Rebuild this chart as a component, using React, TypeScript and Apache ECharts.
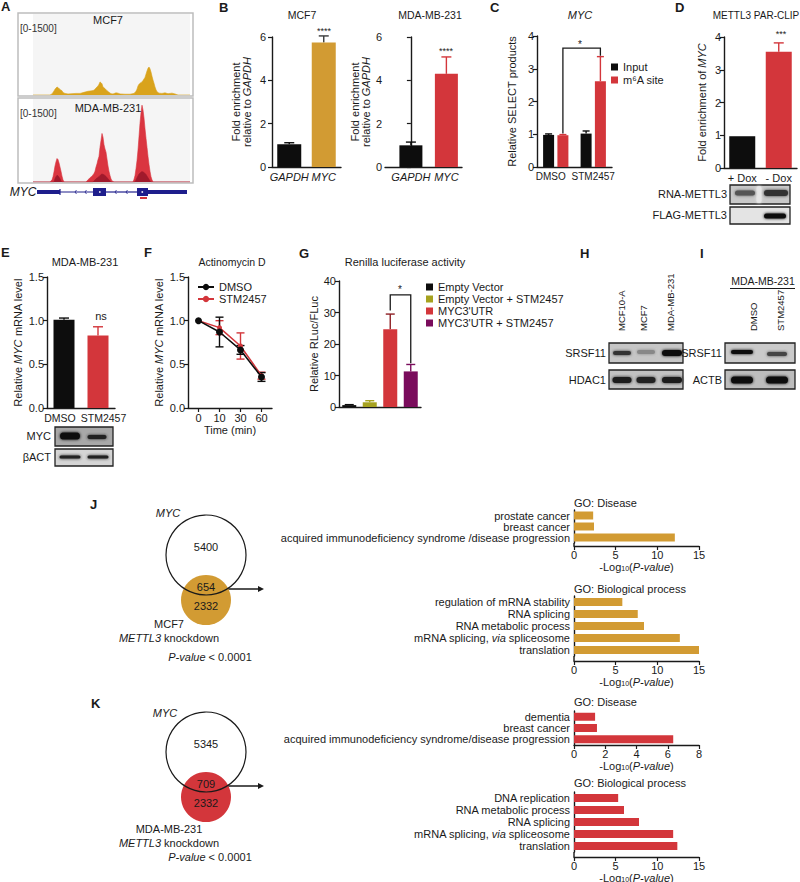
import React, { useEffect, useRef } from 'react';
import * as echarts from 'echarts';

// ---------------- DATA ----------------
// Panel A coverage tracks: [genomic bin, read count]
const trackMCF7: [number, number][] = [[33,0],[50,0],[52,20],[54,75],[55,110],[56,130],[57,150],[58,140],[59,120],[60,105],[61,90],[62,80],[63,45],[65,30],[68,20],[72,25],[76,30],[80,30],[84,50],[86,60],[88,70],[90,75],[92,80],[94,90],[96,130],[98,170],[99,200],[100,245],[101,230],[102,210],[103,150],[105,120],[107,80],[109,50],[111,25],[113,20],[116,40],[118,35],[120,20],[125,15],[130,15],[134,30],[136,70],[137,110],[138,170],[139,200],[140,220],[141,230],[142,250],[143,270],[144,300],[145,330],[146,390],[147,450],[148,500],[149,525],[150,490],[151,430],[152,350],[153,280],[154,220],[155,150],[156,100],[157,60],[159,35],[162,30],[165,40],[168,25],[172,35],[175,20],[178,0],[190,0]];
const trackMDA: [number, number][] = [[33,0],[50,0],[52,40],[53,100],[54,190],[55,300],[56,380],[57,440],[58,420],[59,360],[60,280],[61,200],[62,110],[63,40],[64,0],[86,0],[88,40],[90,80],[92,110],[94,160],[95,200],[96,280],[97,340],[98,420],[99,480],[100,650],[101,780],[102,910],[103,840],[104,700],[105,620],[106,560],[107,430],[108,300],[109,200],[110,120],[111,60],[112,20],[114,0],[133,0],[134,50],[135,120],[136,250],[137,400],[138,600],[139,850],[140,1100],[141,1300],[142,1440],[143,1350],[144,1200],[145,1000],[146,820],[147,650],[148,480],[149,330],[150,200],[151,100],[152,40],[153,0],[190,0]];
const trackMDAUnique: [number, number][] = [[33,0],[54,0],[55,60],[56,100],[57,125],[58,115],[59,90],[60,60],[61,20],[62,0],[93,0],[96,60],[99,100],[101,140],[102,150],[104,135],[106,105],[108,60],[110,20],[111,0],[135,0],[137,80],[139,150],[141,185],[142,195],[144,180],[146,140],[148,80],[150,20],[151,0],[190,0]];

// Panel B
const bCats = ['GAPDH', 'MYC'];
const bMCF7Mean = [1.05, 5.75];
const bMCF7Err = [0.07, 0.3];
const bMDAMean = [1.0, 4.3];
const bMDAErr = [0.15, 0.78];

// Panel C
const cCats = ['DMSO', 'STM2457'];
const cInput = [0.98, 1.02];
const cInputErr = [0.03, 0.08];
const cM6A = [0.97, 2.62];
const cM6AErr = [0.02, 0.75];

// Panel D
const dCats = ['+ Dox', '- Dox'];
const dMean = [0.97, 3.55];
const dErr = [0, 0.27];

// Panel E
const eCats = ['DMSO', 'STM2457'];
const eMean = [1.01, 0.83];
const eErr = [0.02, 0.1];

// Panel F
const fTimes = ['0', '10', '30', '60'];
const fDMSO = [1.0, 0.87, 0.665, 0.355];
const fDMSOErr = [0, 0.17, 0.05, 0.05];
const fSTM = [1.0, 0.92, 0.71, 0.37];
const fSTMErr = [0, 0.08, 0.15, 0.04];

// Panel G
const gNames = ['Empty Vector', 'Empty Vector + STM2457', "MYC3'UTR", "MYC3'UTR + STM2457"];
const gMean = [0.6, 1.5, 24.7, 11.3];
const gErr = [0.15, 0.5, 4.8, 2.2];

// GO panels
const goJDisLabels = ['prostate cancer', 'breast cancer', 'acquired immunodeficiency syndrome /disease progression'];
const goJDisValues = [2.3, 2.4, 12.1];
const goJBpLabels = ['regulation of mRNA stability', 'RNA splicing', 'RNA metabolic process', 'mRNA splicing, via spliceosome', 'translation'];
const goJBpValues = [5.8, 7.65, 8.4, 12.7, 15.0];
const goKDisLabels = ['dementia', 'breast cancer', 'acquired immunodeficiency syndrome/disease progression'];
const goKDisValues = [1.35, 1.47, 6.35];
const goKBpLabels = ['DNA replication', 'RNA metabolic process', 'RNA splicing', 'mRNA splicing, via spliceosome', 'translation'];
const goKBpValues = [5.3, 6.0, 7.8, 11.9, 12.4];

// Venn counts
const vennJ = { myc: '5400', overlap: '654', kd: '2332' };
const vennK = { myc: '5345', overlap: '709', kd: '2332' };

// ---------------- STYLE ----------------
const FONT = '"Liberation Sans", Arial, Helvetica, sans-serif';
const INK = '#1a1a1a';
const GOLD = '#D29B33';
const RED = '#D3363B';
const BLACK = '#0d0d0d';
const OLIVE = '#A6A21F';
const PURPLE = '#7A0C5C';
const NAVY = '#1E1E8C';
const TRACK_GOLD = '#D9A31C';
const TRACK_RED = '#DA3540';
const TRACK_DARK = '#A01A2C';

const rich = {
  i: { fontStyle: 'italic', fontSize: 11, fontFamily: FONT, color: INK },
  n: { fontSize: 11, fontFamily: FONT, color: INK },
  s: { fontSize: 7, fontFamily: FONT, color: INK, verticalAlign: 'bottom', padding: [4, 0, 0, 0] },
};

const axLine = { show: true, lineStyle: { color: INK, width: 1.4 } };

const yVal = (gridIndex: number, min: number, max: number, interval: number, extra: any = {}) => ({
  type: 'value', gridIndex, min, max, interval,
  axisLine: axLine,
  axisTick: { show: true, length: 4, lineStyle: { color: INK, width: 1.2 } },
  splitLine: { show: false },
  axisLabel: { color: INK, fontSize: 11, fontFamily: FONT, margin: 3 },
  nameLocation: 'middle', nameRotate: 90,
  nameTextStyle: { color: INK, fontSize: 11, fontFamily: FONT, rich },
  ...extra,
});

const xCat = (gridIndex: number, data: string[], extra: any = {}) => ({
  type: 'category', gridIndex, data,
  axisLine: axLine,
  axisTick: { show: false },
  axisLabel: { color: INK, fontSize: 11, fontFamily: FONT, margin: 4, interval: 0 },
  ...extra,
});

// category labels nudged sideways (Prism-style placement) via rich padding
const shiftedLabels = (size: number, padA: number[], padB: number[]) => ({
  color: INK, fontSize: size, fontFamily: FONT, margin: 4, interval: 0,
  formatter: (v: string, i: number) => (i === 0 ? `{a|${v}}` : `{b|${v}}`),
  rich: {
    a: { fontSize: size, fontFamily: FONT, color: INK, padding: padA },
    b: { fontSize: size, fontFamily: FONT, color: INK, padding: padB },
  },
});

const errSeries = (xi: number, yi: number, means: number[], errs: number[], colors: string[], opts: any = {}) => ({
  type: 'custom', xAxisIndex: xi, yAxisIndex: yi, z: opts.z ?? 1,
  encode: { x: 0, y: [1, 2, 3] },
  data: means.map((m, i) => [i, m, opts.both ? m - errs[i] : m, m + errs[i]]),
  renderItem: (params: any, api: any) => {
    const i = params.dataIndex;
    if (errs[i] <= 0) return { type: 'group', children: [] };
    const x = api.value(0);
    const pHi = api.coord([x, api.value(3)]);
    const pLo = api.coord([x, api.value(2)]);
    const cx = pHi[0] + (opts.off ?? 0);
    const cap = opts.cap ?? 5;
    const st = { stroke: colors[i], lineWidth: 1.4 };
    const ch: any[] = [
      { type: 'line', shape: { x1: cx, y1: pLo[1], x2: cx, y2: pHi[1] }, style: st },
      { type: 'line', shape: { x1: cx - cap, y1: pHi[1], x2: cx + cap, y2: pHi[1] }, style: st },
    ];
    if (opts.both) ch.push({ type: 'line', shape: { x1: cx - cap, y1: pLo[1], x2: cx + cap, y2: pLo[1] }, style: st });
    return { type: 'group', children: ch };
  },
});

const bracketSeries = (xi: number, yi: number, pts: number[][], off: number) => ({
  type: 'custom', xAxisIndex: xi, yAxisIndex: yi, z: 5,
  encode: { x: [0, 2], y: [1, 3, 4] },
  data: pts,
  renderItem: (_p: any, api: any) => {
    const a = api.coord([api.value(0), api.value(1)]);
    const at = api.coord([api.value(0), api.value(4)]);
    const b = api.coord([api.value(2), api.value(3)]);
    const bt = api.coord([api.value(2), api.value(4)]);
    return {
      type: 'polyline',
      shape: { points: [[a[0] + off, a[1]], [at[0] + off, at[1]], [bt[0] + off, bt[1]], [b[0] + off, b[1]]] },
      style: { stroke: INK, lineWidth: 1.3, fill: 'none' },
    };
  },
});

const txt = (x: number, y: number, text: string, o: any = {}) => ({
  type: 'text', x, y, z: 10, rotation: o.rot ?? 0,
  style: {
    text, fill: o.color ?? INK, fontSize: o.size ?? 11, fontFamily: FONT,
    fontWeight: o.bold ? 'bold' : 'normal', fontStyle: o.italic ? 'italic' : 'normal',
    align: o.align ?? 'center', verticalAlign: 'middle', rich: o.rich,
  },
});

const blot = (x: number, y: number, w: number, h: number, bg: string, bands: [number, number, number, number, string][]) => ({
  type: 'group', children: [
    { type: 'rect', shape: { x, y, width: w, height: h }, style: { fill: bg, stroke: '#222', lineWidth: 1.3 } },
    ...bands.map(([cx, cy, bw, bh, col]) => ({
      type: 'rect', shape: { x: cx - bw / 2, y: cy - bh / 2, width: bw, height: bh, r: bh / 2 },
      style: { fill: col, shadowBlur: 3, shadowColor: col },
    })),
  ],
});

const goAxisX = (gridIndex: number, max: number, interval: number, offset: number) => ({
  type: 'value', gridIndex, min: 0, max, interval, offset,
  axisLine: axLine,
  axisTick: { show: true, length: 4, lineStyle: { color: INK, width: 1.2 } },
  splitLine: { show: false },
  axisLabel: { color: INK, fontSize: 11, fontFamily: FONT, margin: 3 },
  name: '-Log{s|10}({i|P-value})', nameLocation: 'middle', nameGap: 15,
  nameTextStyle: { color: INK, fontSize: 11, fontFamily: FONT, rich },
});
const goAxisY = (gridIndex: number, data: string[]) => ({
  type: 'category', gridIndex, data, inverse: true,
  axisLine: axLine, axisTick: { show: false },
  axisLabel: {
    color: INK, fontSize: 11, fontFamily: FONT, margin: 4, interval: 0,
    formatter: (v: string) => v.replace('via', '{iv|via}'),
    rich: { iv: { fontStyle: 'italic', fontSize: 11, fontFamily: FONT, color: INK } },
  },
});

function buildOption() {
  const grid = [
    { left: 18, top: 15, width: 175, height: 80 },
    { left: 18, top: 102, width: 175, height: 80 },
    { left: 272, top: 37, width: 69, height: 130 },
    { left: 385, top: 37, width: 77, height: 130 },
    { left: 537, top: 36, width: 75, height: 131 },
    { left: 724, top: 37, width: 73, height: 131 },
    { left: 47, top: 277, width: 68, height: 131 },
    { left: 188, top: 277, width: 84, height: 131 },
    { left: 339, top: 281, width: 82, height: 126 },
    { left: 574, top: 510, width: 125, height: 33 },
    { left: 574, top: 596, width: 125, height: 60 },
    { left: 574, top: 711, width: 125, height: 34 },
    { left: 574, top: 792, width: 125, height: 60 },
  ].map((g) => ({ ...g, outerBoundsMode: 'none', containLabel: false }));

  const italicCat = { color: INK, fontSize: 11, fontFamily: FONT, fontStyle: 'italic', margin: 4, interval: 0 };

  const xAxis: any[] = [
    { type: 'value', gridIndex: 0, min: 18, max: 193, show: false },
    { type: 'value', gridIndex: 1, min: 18, max: 193, show: false },
    xCat(2, bCats, { axisLabel: italicCat }),
    {
      type: 'value', gridIndex: 3, min: -0.73, max: 1.44,
      axisLine: axLine, axisTick: { show: false }, splitLine: { show: false },
      axisLabel: { ...italicCat, customValues: [0, 1], formatter: (v: number) => (Math.abs(v - Math.round(v)) < 1e-6 ? bCats[Math.round(v)] ?? '' : '') },
    },
    xCat(4, cCats, { axisLabel: shiftedLabels(10, [0, 10, 0, 0], [0, 0, 0, 0]) }),
    xCat(5, dCats),
    xCat(6, eCats, { axisLabel: shiftedLabels(10.5, [0, 8, 0, 0], [0, 0, 0, 11]) }),
    xCat(7, fTimes, {
      axisTick: { show: true, alignWithLabel: true, length: 4, lineStyle: { color: INK, width: 1.2 } },
      name: 'Time (min)', nameLocation: 'middle', nameGap: 16,
      nameTextStyle: { color: INK, fontSize: 11, fontFamily: FONT },
    }),
    xCat(8, gNames, { axisLabel: { show: false } }),
    goAxisX(9, 15, 5, 3),
    goAxisX(10, 15, 5, 5),
    goAxisX(11, 8, 2, 0),
    goAxisX(12, 15, 5, 5),
  ];

  const decLabel = { color: INK, fontSize: 11, fontFamily: FONT, margin: 3, formatter: (v: number) => v.toFixed(1) };
  const yAxis: any[] = [
    { type: 'value', gridIndex: 0, min: 0, max: 1500, show: false },
    { type: 'value', gridIndex: 1, min: 0, max: 1500, show: false },
    yVal(2, 0, 6, 2, { name: '{n|Fold enrichment}\n{n|relative to }{i|GAPDH}', nameGap: 20, axisLabel: { color: INK, fontSize: 11, fontFamily: FONT, margin: 6 } }),
    yVal(3, 0, 6, 2, { name: '{n|Fold enrichment}\n{n|relative to }{i|GAPDH}', nameGap: 12 }),
    yVal(4, 0, 4, 1, { name: 'Relative SELECT products', nameGap: 20 }),
    yVal(5, 0, 4, 1, { name: '{n|Fold enrichment of }{i|MYC}', nameGap: 17 }),
    yVal(6, 0, 1.5, 0.5, { name: '{n|Relative }{i|MYC}{n| mRNA level}', nameGap: 24, axisLabel: decLabel }),
    yVal(7, 0, 1.5, 0.5, { name: '{n|Relative }{i|MYC}{n| mRNA level}', nameGap: 24, axisLabel: decLabel }),
    yVal(8, 0, 40, 10, { name: 'Relative RLuc/FLuc', nameGap: 20 }),
    goAxisY(9, goJDisLabels),
    goAxisY(10, goJBpLabels),
    goAxisY(11, goKDisLabels),
    goAxisY(12, goKBpLabels),
  ];

  const trackSeries = (xi: number, data: [number, number][], color: string, z: number) => ({
    type: 'line', xAxisIndex: xi, yAxisIndex: xi, data, symbol: 'none', z,
    lineStyle: { width: 0.6, color }, areaStyle: { color, opacity: 1 }, silent: true,
  });

  const series: any[] = [
    trackSeries(0, trackMCF7, TRACK_GOLD, 2),
    trackSeries(1, trackMDA, TRACK_RED, 2),
    trackSeries(1, trackMDAUnique, TRACK_DARK, 3),
    // B
    { type: 'bar', xAxisIndex: 2, yAxisIndex: 2, barWidth: 24, z: 2,
      data: bMCF7Mean.map((v, i) => ({ value: v, itemStyle: { color: [BLACK, GOLD][i] } })) },
    errSeries(2, 2, bMCF7Mean, bMCF7Err, [BLACK, '#3a3a3a']),
    { type: 'bar', xAxisIndex: 3, yAxisIndex: 3, barWidth: 23, z: 2,
      data: bMDAMean.map((v, i) => ({ value: [i, v], itemStyle: { color: [BLACK, RED][i] } })) },
    errSeries(3, 3, bMDAMean, bMDAErr, [BLACK, RED]),
    // C
    { type: 'bar', name: 'Input', xAxisIndex: 4, yAxisIndex: 4, barWidth: 11, barGap: '30%', data: cInput, itemStyle: { color: BLACK }, z: 2 },
    { type: 'bar', name: 'm⁶A site', xAxisIndex: 4, yAxisIndex: 4, barWidth: 11, barGap: '30%', data: cM6A, itemStyle: { color: RED }, z: 2 },
    errSeries(4, 4, cInput, cInputErr, [BLACK, BLACK], { off: -7.15, cap: 3.5 }),
    errSeries(4, 4, cM6A, cM6AErr, [RED, RED], { off: 7.15, cap: 3.5 }),
    bracketSeries(4, 4, [[0, 1.02, 1, 3.4, 3.63]], 7.15),
    // D
    { type: 'bar', xAxisIndex: 5, yAxisIndex: 5, barWidth: 26, z: 2,
      data: dMean.map((v, i) => ({ value: v, itemStyle: { color: [BLACK, RED][i] } })) },
    errSeries(5, 5, dMean, dErr, [BLACK, RED]),
    // E
    { type: 'bar', xAxisIndex: 6, yAxisIndex: 6, barWidth: 21, z: 2,
      data: eMean.map((v, i) => ({ value: v, itemStyle: { color: [BLACK, RED][i] } })) },
    errSeries(6, 6, eMean, eErr, [BLACK, RED]),
    // F
    errSeries(7, 7, fSTM, fSTMErr, fSTM.map(() => RED), { both: true, cap: 4, z: 2 }),
    errSeries(7, 7, fDMSO, fDMSOErr, fDMSO.map(() => BLACK), { both: true, cap: 4, z: 2 }),
    { type: 'line', name: 'STM2457', xAxisIndex: 7, yAxisIndex: 7, data: fSTM, symbol: 'circle', symbolSize: 5,
      lineStyle: { color: RED, width: 1.5 }, itemStyle: { color: RED }, z: 3 },
    { type: 'line', name: 'DMSO', xAxisIndex: 7, yAxisIndex: 7, data: fDMSO, symbol: 'circle', symbolSize: 7,
      lineStyle: { color: BLACK, width: 1.5 }, itemStyle: { color: BLACK }, z: 4 },
    // G
    ...gNames.map((name, k) => ({
      type: 'bar', name, xAxisIndex: 8, yAxisIndex: 8, stack: 'g', barWidth: 14, z: 2,
      itemStyle: { color: [BLACK, OLIVE, RED, PURPLE][k] },
      data: gMean.map((v, i) => (i === k ? v : '-')),
    })),
    errSeries(8, 8, gMean, gErr, [BLACK, OLIVE, '#8e1f24', PURPLE], { cap: 4.5 }),
    bracketSeries(8, 8, [[2, 30.6, 3, 13.9, 35.6]], 0),
    // GO
    { type: 'bar', xAxisIndex: 9, yAxisIndex: 9, data: goJDisValues, barWidth: 8, itemStyle: { color: GOLD } },
    { type: 'bar', xAxisIndex: 10, yAxisIndex: 10, data: goJBpValues, barWidth: 8, itemStyle: { color: GOLD } },
    { type: 'bar', xAxisIndex: 11, yAxisIndex: 11, data: goKDisValues, barWidth: 8, itemStyle: { color: RED } },
    { type: 'bar', xAxisIndex: 12, yAxisIndex: 12, data: goKBpValues, barWidth: 8, itemStyle: { color: RED } },
  ];

  const legendText = { color: INK, fontSize: 11, fontFamily: FONT, lineHeight: 12 };
  const legend = [
    { data: ['Input', 'm⁶A site'], left: 611, top: 61, orient: 'vertical', itemWidth: 7, itemHeight: 7, itemGap: 1, icon: 'rect', padding: 0, selectedMode: false, textStyle: legendText },
    { data: ['DMSO', 'STM2457'], left: 197, top: 281, orient: 'vertical', itemWidth: 16, itemHeight: 8, itemGap: 0, padding: 0, selectedMode: false, textStyle: legendText },
    { data: gNames, left: 426, top: 281, orient: 'vertical', itemWidth: 7, itemHeight: 7, itemGap: 0, icon: 'rect', padding: 0, selectedMode: false, textStyle: legendText },
  ];

  const g: any[] = [];
  // Panel letters
  ([['A', 1, 6], ['B', 219, 7], ['C', 490, 7], ['D', 675, 7], ['E', 1, 252], ['F', 144, 252], ['G', 299, 253], ['H', 580, 253], ['I', 700, 253], ['J', 90, 504], ['K', 91, 703]] as [string, number, number][])
    .forEach(([t, x, y]) => g.push(txt(x, y, t, { bold: true, size: 13, align: 'left' })));

  // Panel A boxes
  g.push({ type: 'rect', z: 0, shape: { x: 18, y: 13, width: 175, height: 83 }, style: { fill: '#fff', stroke: '#BDBDBD', lineWidth: 1.5 } });
  g.push({ type: 'rect', z: 0, shape: { x: 33, y: 14, width: 157, height: 81 }, style: { fill: '#F5F5F5' } });
  g.push({ type: 'rect', z: 0, shape: { x: 18, y: 98, width: 175, height: 85 }, style: { fill: '#fff', stroke: '#BDBDBD', lineWidth: 1.5 } });
  g.push({ type: 'rect', z: 0, shape: { x: 33, y: 99, width: 157, height: 83 }, style: { fill: '#F5F5F5' } });
  g.push(txt(108, 20, 'MCF7', { size: 11 }));
  g.push(txt(20, 28, '[0-1500]', { size: 10, align: 'left', color: '#333' }));
  g.push(txt(108, 108, 'MDA-MB-231', { size: 11 }));
  g.push(txt(20, 113, '[0-1500]', { size: 10, align: 'left', color: '#333' }));
  // gene model
  g.push(txt(23, 192, 'MYC', { italic: true, size: 12 }));
  g.push({ type: 'rect', shape: { x: 37, y: 190, width: 23, height: 4 }, style: { fill: NAVY } });
  g.push({ type: 'line', shape: { x1: 60, y1: 192, x2: 93, y2: 192 }, style: { stroke: NAVY, lineWidth: 1.2 } });
  g.push({ type: 'line', shape: { x1: 60, y1: 189, x2: 60, y2: 195 }, style: { stroke: NAVY, lineWidth: 1.2 } });
  g.push({ type: 'rect', shape: { x: 93, y: 188, width: 13, height: 8 }, style: { fill: NAVY } });
  g.push({ type: 'line', shape: { x1: 106, y1: 192, x2: 137, y2: 192 }, style: { stroke: NAVY, lineWidth: 1.2 } });
  g.push({ type: 'rect', shape: { x: 137, y: 188, width: 11, height: 8 }, style: { fill: NAVY } });
  g.push({ type: 'rect', shape: { x: 148, y: 190, width: 39, height: 4 }, style: { fill: NAVY } });
  [75, 85, 115, 126].forEach((x) => g.push({ type: 'polyline', shape: { points: [[x + 1.5, 190], [x, 192], [x + 1.5, 194]] }, style: { stroke: NAVY, lineWidth: 0.8, fill: 'none' } }));
  g.push({ type: 'rect', shape: { x: 99, y: 191.2, width: 1.6, height: 1.6 }, style: { fill: '#fff' } });
  g.push({ type: 'rect', shape: { x: 141.5, y: 191.2, width: 1.6, height: 1.6 }, style: { fill: '#fff' } });
  g.push({ type: 'rect', shape: { x: 140, y: 197, width: 7, height: 2 }, style: { fill: RED } });

  // Titles
  g.push(txt(302, 15, 'MCF7', { size: 10.5 }));
  g.push(txt(430, 15, 'MDA-MB-231', { size: 10.5 }));
  g.push(txt(580, 15, 'MYC', { size: 11, italic: true }));
  g.push(txt(756, 15, 'METTL3 PAR-CLIP', { size: 10 }));
  g.push(txt(85, 262, 'MDA-MB-231', { size: 11 }));
  g.push(txt(232, 262, 'Actinomycin D', { size: 10.5 }));
  g.push(txt(405, 262, 'Renilla luciferase activity', { size: 11 }));

  // significance marks
  g.push(txt(324, 31, '****', { size: 9 }));
  g.push(txt(446, 51, '****', { size: 9 }));
  g.push(txt(580, 44, '*', { size: 10 }));
  g.push(txt(781, 34, '***', { size: 9 }));
  g.push(txt(101, 316, 'ns', { size: 11 }));
  g.push(txt(400, 289, '*', { size: 10 }));

  // GO extend y-axis lines down to offset x-axes
  [[543, 546], [656, 661], [852, 857]].forEach(([y1, y2]) => g.push({ type: 'line', shape: { x1: 574, y1, x2: 574, y2 }, style: { stroke: INK, lineWidth: 1.4 } }));
  g.push(txt(574, 503, 'GO: Disease', { align: 'left' }));
  g.push(txt(574, 589, 'GO: Biological process', { align: 'left' }));
  g.push(txt(574, 702, 'GO: Disease', { align: 'left' }));
  g.push(txt(574, 783, 'GO: Biological process', { align: 'left' }));

  // Blots D
  g.push(blot(730, 185, 60, 19, '#C9C9C9', [[759, 194.5, 5, 17, '#E6E6E6'], [745, 193, 20, 5, '#555'], [776, 193, 24, 6, '#333']]));
  g.push(blot(730, 207, 60, 17, '#E4E4E4', [[775, 216, 22, 5, '#111']]));
  g.push(txt(727, 194, 'RNA-METTL3', { align: 'right' }));
  g.push(txt(727, 215, 'FLAG-METTL3', { align: 'right' }));
  // Blots E
  g.push(blot(55, 427, 58, 19, '#A8A8A8', [[70, 436, 20, 7, '#111'], [97, 437, 19, 4, '#222']]));
  g.push(blot(55, 449, 58, 17, '#D5D5D5', [[70, 457, 21, 3, '#222'], [98, 457, 21, 3, '#222']]));
  g.push(txt(51, 436, 'MYC', { align: 'right' }));
  g.push(txt(51, 457, 'βACT', { align: 'right' }));
  // Blots H
  g.push(blot(609, 343, 74, 20, '#C6C6C6', [[622, 353, 18, 4, '#333'], [646, 352, 18, 4, '#888'], [672, 353, 20, 6, '#111']]));
  g.push(blot(609, 370, 74, 19, '#C2C2C2', [[622, 380, 19, 6, '#1a1a1a'], [646, 380, 19, 6, '#222'], [672, 380, 20, 6, '#1a1a1a']]));
  g.push(txt(606, 353, 'SRSF11', { align: 'right' }));
  g.push(txt(606, 380, 'HDAC1', { align: 'right' }));
  g.push(txt(621, 331, 'MCF10-A', { align: 'left', rot: Math.PI / 2, size: 9.5 }));
  g.push(txt(643, 331, 'MCF7', { align: 'left', rot: Math.PI / 2, size: 9.5 }));
  g.push(txt(670, 331, 'MDA-MB-231', { align: 'left', rot: Math.PI / 2, size: 9.5 }));
  // Blots I
  g.push(blot(725, 343, 70, 20, '#CACACA', [[742, 352, 22, 4, '#111'], [777, 354, 20, 4, '#444']]));
  g.push(blot(725, 370, 70, 19, '#BDBDBD', [[742, 380, 22, 7, '#111'], [777, 380, 22, 7, '#111']]));
  g.push(txt(722, 353, 'SRSF11', { align: 'right' }));
  g.push(txt(722, 380, 'ACTB', { align: 'right' }));
  g.push(txt(763, 281, 'MDA-MB-231', { size: 10.5 }));
  g.push({ type: 'line', shape: { x1: 730, y1: 288.5, x2: 795, y2: 288.5 }, style: { stroke: INK, lineWidth: 1 } });
  g.push(txt(753, 331, 'DMSO', { align: 'left', rot: Math.PI / 2, size: 9.5 }));
  g.push(txt(780, 331, 'STM2457', { align: 'left', rot: Math.PI / 2, size: 9.5 }));

  // Venn diagrams
  const venn = (cy: number, fill: string, v: { myc: string; overlap: string; kd: string }, labelLines: string[], labelY: number, pY: number, mycX: number, mycY: number) => {
    g.push({ type: 'circle', z: 1, shape: { cx: 206, cy: cy + 45, r: 25 }, style: { fill } });
    g.push({ type: 'circle', z: 2, shape: { cx: 206, cy, r: 40 }, style: { fill: 'none', stroke: INK, lineWidth: 1.2 } });
    g.push(txt(206, cy - 8, v.myc));
    g.push(txt(206, cy + 32, v.overlap));
    g.push(txt(206, cy + 51, v.kd));
    g.push(txt(mycX, mycY, 'MYC', { italic: true }));
    g.push({ type: 'line', shape: { x1: 222, y1: cy + 34, x2: 259, y2: cy + 34 }, style: { stroke: INK, lineWidth: 1.5 } });
    g.push({ type: 'polygon', shape: { points: [[258, cy + 31], [264, cy + 34], [258, cy + 37]] }, style: { fill: INK } });
    labelLines.forEach((l, k) => g.push(txt(169, labelY + k * 14, l, { rich })));
    g.push(txt(210, pY, '{i|P-value}{n| < 0.0001}', { rich }));
  };
  venn(555, GOLD, vennJ, ['{n|MCF7}', '{i|METTL3}{n| knockdown}'], 624, 657, 168, 513);
  venn(752, RED, vennK, ['{n|MDA-MB-231}', '{i|METTL3}{n| knockdown}'], 829, 857, 165, 713);

  return {
    animation: false,
    backgroundColor: '#ffffff',
    textStyle: { fontFamily: FONT },
    grid, xAxis, yAxis, series, legend,
    graphic: { elements: g },
  };
}

export default function App() {
  const ref = useRef<HTMLDivElement>(null);
  useEffect(() => {
    if (!ref.current) return;
    const chart = echarts.init(ref.current, undefined, { renderer: 'svg', width: 800, height: 882 });
    chart.setOption(buildOption() as any);
    return () => chart.dispose();
  }, []);
  return <div ref={ref} style={{ position: 'fixed', left: 0, top: 0, width: 800, height: 882, background: '#fff' }} />;
}
